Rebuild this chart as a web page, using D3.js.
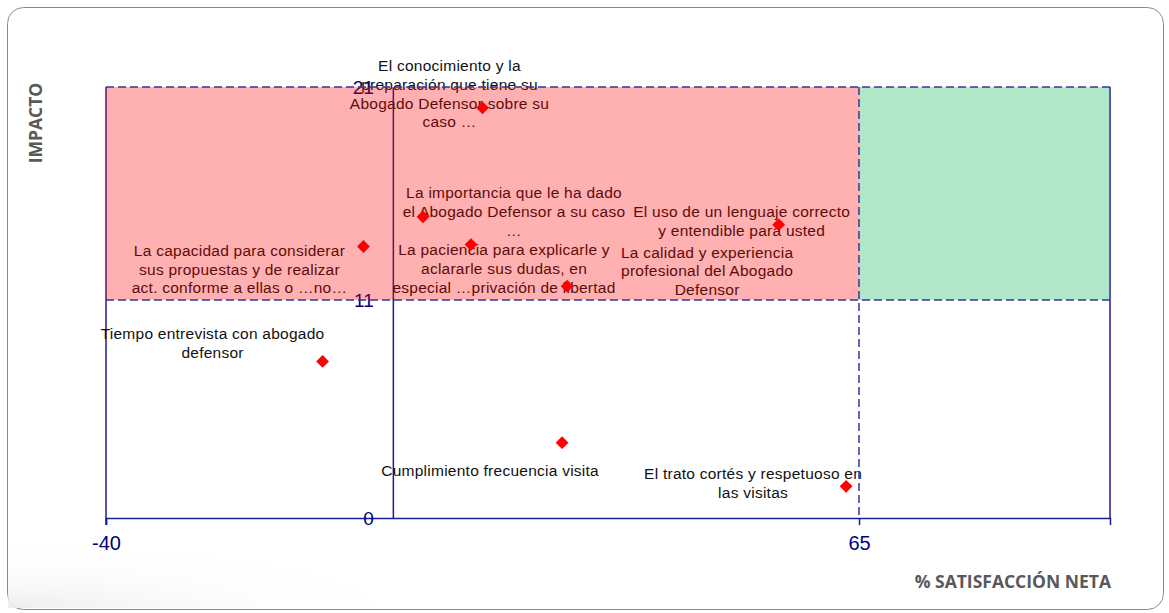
<!DOCTYPE html>
<html>
<head>
<meta charset="utf-8">
<script src="https://cdn.jsdelivr.net/npm/d3@7"></script>
<style>
  html, body { margin: 0; padding: 0; background: #ffffff; }
  svg { display: block; }
</style>
</head>
<body>
<svg id="chart" width="1169" height="613"></svg>
<script>
// ---- DATA ----
const atributos = [
  ["El conocimiento y la", "preparación que tiene su", "Abogado Defensor sobre su", "caso …"],
  ["La capacidad para considerar", "sus propuestas y de realizar", "act. conforme a ellas o …no…"],
  ["La importancia que le ha dado", "el Abogado Defensor a su caso", "…"],
  ["La paciencia para explicarle y", "aclararle sus dudas, en", "especial …privación de libertad"],
  ["La calidad y experiencia", "profesional del Abogado", "Defensor"],
  ["El uso de un lenguaje correcto", "y entendible para usted"],
  ["Tiempo entrevista con abogado", "defensor"],
  ["Cumplimiento frecuencia visita"],
  ["El trato cortés y respetuoso en", "las visitas"]
];
const satisfaccionNeta = [12.5, -4.1, 4.2, 10.9, 24.3, 53.8, -9.8, 23.6, 63.2];
const impacto = [20.7, 13.7, 15.2, 13.8, 11.7, 14.8, 7.9, 3.8, 1.6];

const xDomain = [-40, 100];
const yDomain = [0, 21.75];
const xTickValues = [-40, 65];
const xTickLabels = ["-40", "65"];
const yTickValues = [0, 11, 21.75];
const yTickLabels = ["0", "11", "21"];
const corteSatisfaccion = 65;
const corteImpacto = 11;

// ---- LAYOUT (label offsets in px from each point to label block) ----
const labelOffsets = [
  [-33, -42], [-124, 4], [91, -24], [33, 5], [140, -34],
  [-37, -13], [-110, -28], [-72, 28], [-93, -13]
];

const svg = d3.select("#chart");
const plot = { left: 106, right: 1110, top: 87, bottom: 518 };
const x = d3.scaleLinear().domain(xDomain).range([plot.left, plot.right]);
const y = d3.scaleLinear().domain(yDomain).range([plot.bottom, plot.top]);

const navy = "#1c1c96";
const dashCol = "#34349a";

// outer frame
svg.append("rect")
  .attr("x", 7.5).attr("y", 7.5).attr("width", 1156).attr("height", 602)
  .attr("rx", 16).attr("ry", 16)
  .attr("fill", "#ffffff").attr("stroke", "#8a8a8a").attr("stroke-width", 1);

// faint shadow bottom-left
const defs = svg.append("defs");
const grad = defs.append("radialGradient").attr("id", "sh").attr("cx", "0").attr("cy", "1").attr("r", "1");
grad.append("stop").attr("offset", "0").attr("stop-color", "#ececec").attr("stop-opacity", 0.9);
grad.append("stop").attr("offset", "1").attr("stop-color", "#ffffff").attr("stop-opacity", 0);
svg.append("rect").attr("x", 8).attr("y", 545).attr("width", 380).attr("height", 63).attr("fill", "url(#sh)");

// plot frame: left, right solid
const g = svg.append("g");
g.append("line").attr("x1", x(xDomain[0])).attr("x2", x(xDomain[0]))
  .attr("y1", y(yDomain[1])).attr("y2", y(0) + 7).attr("stroke", navy).attr("stroke-width", 1.5);
g.append("line").attr("x1", x(xDomain[1])).attr("x2", x(xDomain[1]))
  .attr("y1", y(yDomain[1])).attr("y2", y(0)).attr("stroke", navy).attr("stroke-width", 1.5);

// x axis at y=0
const xAxis = d3.axisBottom(x).tickValues(xTickValues).tickSize(7)
  .tickFormat((d, i) => xTickLabels[i]);
const xg = svg.append("g").attr("transform", `translate(0,${y(0)})`).call(xAxis);
xg.select(".domain").attr("stroke", navy).attr("stroke-width", 1.5);
xg.selectAll(".tick line").attr("stroke", navy).attr("stroke-width", 1.5);
xg.selectAll(".tick text").attr("fill", "#000080").attr("font-family", "Liberation Sans, Arial, sans-serif")
  .attr("font-size", 20).attr("dy", "1.05em").attr("y", 11);

// y axis at x=0
const yAxis = d3.axisLeft(y).tickValues(yTickValues).tickSize(0)
  .tickFormat((d, i) => yTickLabels[i]);
const yg = svg.append("g").attr("transform", `translate(${x(0)},0)`).call(yAxis);
yg.select(".domain").attr("stroke", navy).attr("stroke-width", 1.5);
yg.selectAll(".tick text").attr("fill", "#000080").attr("font-family", "Liberation Sans, Arial, sans-serif")
  .attr("font-size", 19).attr("x", -19).attr("dy", "0.36em");

// labels (under the translucent quadrants)
const lineH = 18.7;
const labG = svg.append("g").attr("font-family", "Liberation Sans, Arial, sans-serif")
  .attr("font-size", 15.5).attr("letter-spacing", 0.25).attr("fill", "#111").attr("text-anchor", "middle");
atributos.forEach((lines, i) => {
  const px = x(satisfaccionNeta[i]) + labelOffsets[i][0];
  const py = y(impacto[i]) + labelOffsets[i][1];
  const t = labG.append("text").attr("x", px).attr("y", py);
  lines.forEach((ln, j) => {
    t.append("tspan").attr("x", px).attr("dy", j === 0 ? "0.36em" : lineH).text(ln);
  });
});

// translucent quadrants
svg.append("rect")
  .attr("x", x(xDomain[0])).attr("y", y(yDomain[1]))
  .attr("width", x(corteSatisfaccion) - x(xDomain[0]))
  .attr("height", y(corteImpacto) - y(yDomain[1]))
  .attr("fill", "#ff0000").attr("fill-opacity", 0.31);
svg.append("rect")
  .attr("x", x(corteSatisfaccion)).attr("y", y(yDomain[1]))
  .attr("width", x(xDomain[1]) - x(corteSatisfaccion))
  .attr("height", y(corteImpacto) - y(yDomain[1]))
  .attr("fill", "#00b050").attr("fill-opacity", 0.31);

// dashed lines
const dash = "8,4";
svg.append("line").attr("x1", x(xDomain[0])).attr("x2", x(xDomain[1]))
  .attr("y1", y(yDomain[1])).attr("y2", y(yDomain[1]))
  .attr("stroke", dashCol).attr("stroke-width", 1.5).attr("stroke-dasharray", dash);
svg.append("line").attr("x1", x(xDomain[0])).attr("x2", x(xDomain[1]))
  .attr("y1", y(corteImpacto)).attr("y2", y(corteImpacto))
  .attr("stroke", dashCol).attr("stroke-width", 1.5).attr("stroke-dasharray", dash);
svg.append("line").attr("x1", x(corteSatisfaccion)).attr("x2", x(corteSatisfaccion))
  .attr("y1", y(yDomain[1])).attr("y2", y(0))
  .attr("stroke", dashCol).attr("stroke-width", 1.5).attr("stroke-dasharray", dash);

// points
const diamond = d3.symbol().type(d3.symbolSquare).size(82);
svg.append("g").selectAll("path").data(satisfaccionNeta).join("path")
  .attr("d", diamond)
  .attr("transform", (d, i) => `translate(${x(d)},${y(impacto[i])}) rotate(45)`)
  .attr("fill", "#ff0000");

// axis titles
svg.append("text").attr("transform", `translate(42,123) rotate(-90)`)
  .attr("text-anchor", "middle").attr("font-family", "Open Sans, sans-serif")
  .attr("font-weight", "bold").attr("font-size", 17.5).attr("fill", "#595959").text("IMPACTO");
svg.append("text").attr("x", 1111).attr("y", 588)
  .attr("text-anchor", "end").attr("font-family", "Open Sans, sans-serif")
  .attr("font-weight", "bold").attr("font-size", 17.5).attr("fill", "#595959").text("% SATISFACCIÓN NETA");
</script>
</body>
</html>
